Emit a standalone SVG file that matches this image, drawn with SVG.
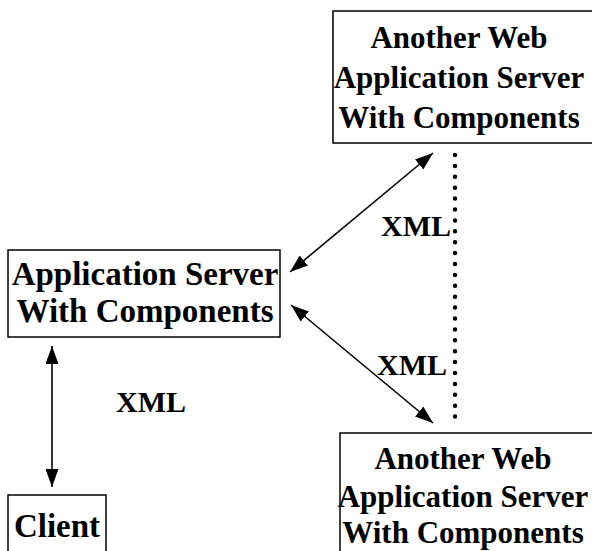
<svg xmlns="http://www.w3.org/2000/svg" width="592" height="551" viewBox="0 0 592 551">
  <style>
    .box { fill: #ffffff; stroke: #000000; stroke-width: 1.5; }
    .lbl { font-family: "Liberation Serif", "Times New Roman", serif; font-weight: bold; fill: #000000; }
    .node { font-size: 31px; text-anchor: middle; }
    .big { font-size: 33px; }
    .xml { font-size: 30px; }
    .link { stroke: #000000; stroke-width: 1.6; fill: none; marker-start: url(#head); marker-end: url(#head); }
    .dots { stroke: #000000; stroke-width: 4.5; stroke-linecap: round; stroke-dasharray: 0 10.9; fill: none; }
  </style>
  <defs>
    <marker id="head" viewBox="0 0 18 13" refX="18" refY="6.5" markerWidth="18" markerHeight="13" markerUnits="userSpaceOnUse" orient="auto-start-reverse">
      <path d="M0,0 L18,6.5 L0,13 Z" fill="#000000"/>
    </marker>
  </defs>

  <rect width="592" height="551" fill="#ffffff"/>

  <!-- remote server, top -->
  <g id="remote-top">
    <rect class="box" x="333" y="11" width="270" height="132"/>
    <text class="lbl node" x="459" y="48">Another Web</text>
    <text class="lbl node" x="459" y="88">Application Server</text>
    <text class="lbl node" x="459" y="128">With Components</text>
  </g>

  <!-- local application server -->
  <g id="app-server">
    <rect class="box" x="8" y="250" width="272" height="87"/>
    <text class="lbl node big" x="145" y="285">Application Server</text>
    <text class="lbl node big" x="145" y="322">With Components</text>
  </g>

  <!-- client -->
  <g id="client">
    <rect class="box" x="8" y="495" width="98" height="70"/>
    <text class="lbl node big" x="57" y="537">Client</text>
  </g>

  <!-- remote server, bottom -->
  <g id="remote-bottom">
    <rect class="box" x="340" y="433" width="270" height="130"/>
    <text class="lbl node" x="463" y="469">Another Web</text>
    <text class="lbl node" x="463" y="507">Application Server</text>
    <text class="lbl node" x="463" y="543">With Components</text>
  </g>

  <!-- connectors -->
  <g id="connectors">
    <line class="link" x1="290" y1="272" x2="433" y2="153"/>
    <line class="link" x1="291" y1="305" x2="433" y2="423"/>
    <line class="link" x1="52" y1="346" x2="52" y2="487"/>
    <line class="dots" x1="455" y1="155" x2="455" y2="418"/>
    <text class="lbl xml" x="381" y="236">XML</text>
    <text class="lbl xml" x="377" y="375">XML</text>
    <text class="lbl xml" x="116" y="412">XML</text>
  </g>
</svg>
